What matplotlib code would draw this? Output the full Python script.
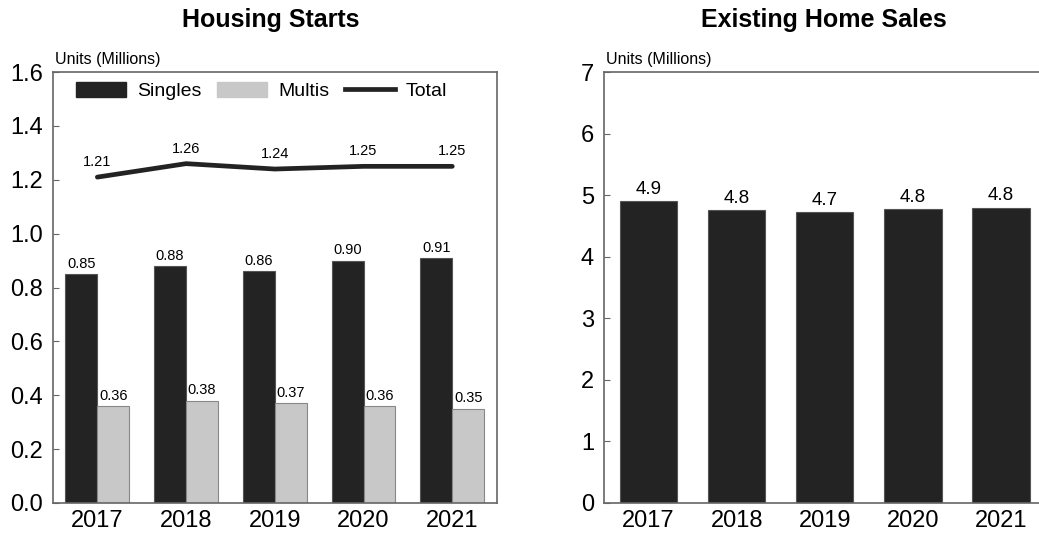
import numpy as np
import matplotlib.pyplot as plt
from matplotlib.patches import Rectangle
from matplotlib.lines import Line2D

plt.rcParams['font.family'] = ['Liberation Sans', 'DejaVu Sans']

years = ['2017', '2018', '2019', '2020', '2021']
singles = [0.85, 0.88, 0.86, 0.90, 0.91]
multis = [0.36, 0.38, 0.37, 0.36, 0.35]
total = [1.21, 1.26, 1.24, 1.25, 1.25]
home_sales = [4.90, 4.76, 4.72, 4.78, 4.80]

dark = '#232323'
light = '#c8c8c8'
spine_col = '#666666'


def style_axis(ax):
    for side in ['left', 'top', 'right', 'bottom']:
        ax.spines[side].set_color(spine_col)
        ax.spines[side].set_linewidth(1.2)
    ax.tick_params(axis='y', direction='in', length=4, color=spine_col,
                   labelsize=17, pad=7)
    ax.tick_params(axis='x', length=0, labelsize=17, pad=5)


fig = plt.figure(figsize=(10.39, 5.42), dpi=100)

# housing starts: singles vs multis with the total line
ax1 = fig.add_axes([0.051, 0.072, 0.427, 0.795])
x = np.arange(len(years))
w = 0.36
ax1.bar(x - w / 2, singles, w, color=dark, edgecolor='#555555', linewidth=0.8)
ax1.bar(x + w / 2, multis, w, color=light, edgecolor='#888888', linewidth=0.8)
ax1.plot(x, total, color=dark, linewidth=3.4, solid_capstyle='round')
for i in range(len(years)):
    ax1.text(x[i] - w / 2, singles[i] + 0.012, f'{singles[i]:.2f}',
             ha='center', va='bottom', fontsize=10.5)
    ax1.text(x[i] + w / 2, multis[i] + 0.012, f'{multis[i]:.2f}',
             ha='center', va='bottom', fontsize=10.5)
    ax1.text(x[i], total[i] + 0.03, f'{total[i]:.2f}',
             ha='center', va='bottom', fontsize=10.5)
ax1.set_xlim(-0.5, 4.5)
ax1.set_ylim(0, 1.6)
ax1.set_yticks(np.arange(0, 1.61, 0.2))
ax1.set_yticklabels([f'{v:.1f}' for v in np.arange(0, 1.61, 0.2)])
ax1.set_xticks(x)
ax1.set_xticklabels(years)
style_axis(ax1)

handles = [Rectangle((0, 0), 1, 1, facecolor=dark, edgecolor=dark),
           Rectangle((0, 0), 1, 1, facecolor=light, edgecolor=light),
           Line2D([0], [0], color=dark, linewidth=3.4)]
ax1.legend(handles, ['Singles', 'Multis', 'Total'], ncol=3, frameon=False,
           loc='center', bbox_to_anchor=(0.47, 0.956), fontsize=14,
           handlelength=2.6, handleheight=0.85, columnspacing=0.8,
           handletextpad=0.55, borderpad=0, borderaxespad=0)

# existing home sales
ax2 = fig.add_axes([0.581, 0.072, 0.424, 0.795])
ax2.bar(x, home_sales, 0.65, color=dark, edgecolor='#555555', linewidth=0.8)
for i in range(len(years)):
    ax2.text(x[i], home_sales[i] + 0.05, f'{home_sales[i]:.1f}',
             ha='center', va='bottom', fontsize=13.5)
ax2.set_xlim(-0.51, 4.49)
ax2.set_ylim(0, 7)
ax2.set_yticks(range(0, 8))
ax2.set_xticks(x)
ax2.set_xticklabels(years)
style_axis(ax2)

fig.text(0.261, 0.963, 'Housing Starts', ha='center', va='center',
         fontsize=18, fontweight='bold')
fig.text(0.793, 0.963, 'Existing Home Sales', ha='center', va='center',
         fontsize=18, fontweight='bold')
fig.text(0.053, 0.89, 'Units (Millions)', ha='left', va='center', fontsize=11.5)
fig.text(0.583, 0.89, 'Units (Millions)', ha='left', va='center', fontsize=11.5)

fig.savefig('out.png', dpi=100)
